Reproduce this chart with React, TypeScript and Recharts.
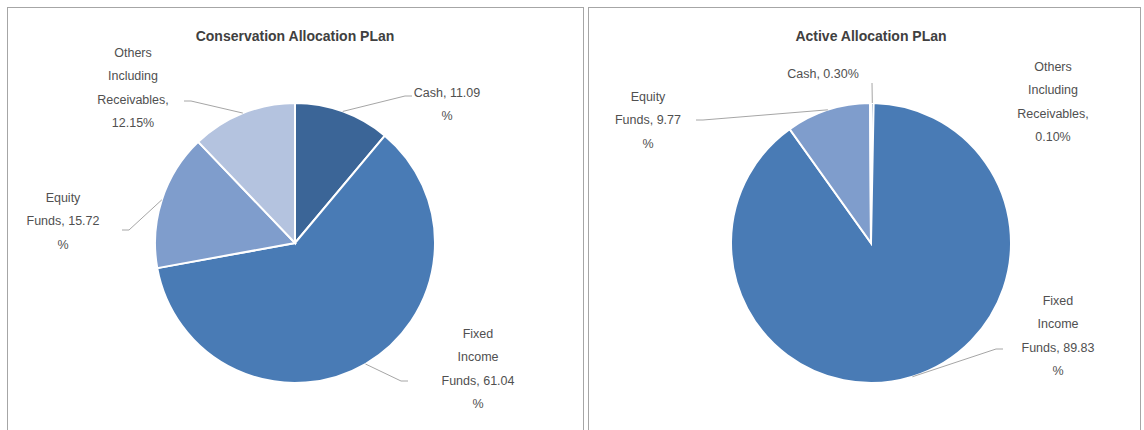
import React from "react"
import { Cell, Pie, PieChart } from "recharts"

// slice order as drawn: clockwise from 12 o'clock
const categories = ["Cash", "Fixed Income Funds", "Equity Funds", "Others Including Receivables"]
const conservationValues = [11.09, 61.04, 15.72, 12.15]
const activeValues = [0.3, 89.83, 9.77, 0.1]

const conservationLabels = [["Cash, 11.09", "%"], ["Fixed", "Income", "Funds, 61.04", "%"], ["Equity", "Funds, 15.72", "%"], ["Others", "Including", "Receivables,", "12.15%"]]
const activeLabels = [["Cash, 0.30%"], ["Fixed", "Income", "Funds, 89.83", "%"], ["Equity", "Funds, 9.77", "%"], ["Others", "Including", "Receivables,", "0.10%"]]

const COLORS = ["#3b6597", "#497bb5", "#7f9dcc", "#b4c3df"]
const TEXT = "#505050"
const LINE = "#a6a6a6"
const FONT = "'Liberation Sans', Arial, sans-serif"
const LINE_H = 23.5
const R = 140

// label block placement relative to pie centre: text centre x, first line centre y,
// leader end point (lx, ly) and which side of the text the leader joins
type LabelPos = { dx: number; dy: number; lx: number; ly: number; side: number; leader: boolean }

const conservationPos: LabelPos[] = [
  { dx: 152, dy: -151, lx: 110, ly: -147, side: 1, leader: true },
  { dx: 183, dy: 90, lx: 106, ly: 138, side: 1, leader: true },
  { dx: -232, dy: -46, lx: -166, ly: -13, side: -1, leader: true },
  { dx: -162, dy: -191, lx: -104, ly: -142, side: -1, leader: true },
]
const activePos: LabelPos[] = [
  { dx: -48, dy: -170, lx: 1, ly: -160, side: 0, leader: true },
  { dx: 187, dy: 57, lx: 125, ly: 106, side: 1, leader: true },
  { dx: -223, dy: -147, lx: -168, ly: -123, side: -1, leader: true },
  { dx: 182, dy: -177, lx: 0, ly: 0, side: 0, leader: false },
]

const RAD = Math.PI / 180

function makeLabel(lines: string[][], pos: LabelPos[]) {
  return (props: any) => {
    const { cx, cy, midAngle, outerRadius, index } = props
    const p = pos[index]
    const ex = cx + outerRadius * Math.cos(-midAngle * RAD)
    const ey = cy + outerRadius * Math.sin(-midAngle * RAD)
    const lx = cx + p.lx
    const ly = cy + p.ly
    const tx = cx + p.dx
    const ty = cy + p.dy
    return (
      <g key={`lbl-${index}`}>
        {p.leader && (
          <polyline
            points={`${ex},${ey} ${lx},${ly} ${lx + p.side * 7},${ly}`}
            fill="none"
            stroke={LINE}
            strokeWidth={1}
          />
        )}
        <text x={tx} y={ty} textAnchor="middle" fill={TEXT} fontSize={12.5} fontFamily={FONT}>
          {lines[index].map((l, i) => (
            <tspan key={i} x={tx} y={ty + i * LINE_H + 4.5}>
              {l}
            </tspan>
          ))}
        </text>
      </g>
    )
  }
}

function Panel({ left, width, title, titleX, values, lines, pos, cx }: any) {
  const data = categories.map((name, i) => ({ name, value: values[i] }))
  return (
    <div
      style={{
        position: "absolute",
        left,
        top: 7,
        width,
        height: 440,
        border: `1px solid ${LINE}`,
        boxSizing: "border-box",
        background: "#fff",
      }}
    >
      <div
        style={{
          position: "absolute",
          left: titleX,
          top: 20,
          transform: "translateX(-50%)",
          whiteSpace: "nowrap",
          fontFamily: FONT,
          fontWeight: "bold",
          fontSize: 14,
          color: "#404040",
        }}
      >
        {title}
      </div>
      <PieChart width={width - 2} height={430} margin={{ top: 0, right: 0, bottom: 0, left: 0 }}>
        <Pie
          data={data}
          dataKey="value"
          nameKey="name"
          cx={cx}
          cy={235}
          outerRadius={R}
          startAngle={90}
          endAngle={-270}
          stroke="#ffffff"
          strokeWidth={2}
          labelLine={false}
          label={makeLabel(lines, pos)}
          isAnimationActive={false}
        >
          {data.map((d, i) => (
            <Cell key={d.name} fill={COLORS[i]} />
          ))}
        </Pie>
      </PieChart>
    </div>
  )
}

export default function App() {
  return (
    <div style={{ position: "absolute", left: 0, top: 0, width: 1144, height: 430, overflow: "hidden", background: "#fff" }}>
      <Panel
        left={7}
        width={577}
        title="Conservation Allocation PLan"
        titleX={287}
        values={conservationValues}
        lines={conservationLabels}
        pos={conservationPos}
        cx={287}
      />
      <Panel
        left={588}
        width={553}
        title="Active Allocation PLan"
        titleX={282}
        values={activeValues}
        lines={activeLabels}
        pos={activePos}
        cx={282}
      />
    </div>
  )
}
